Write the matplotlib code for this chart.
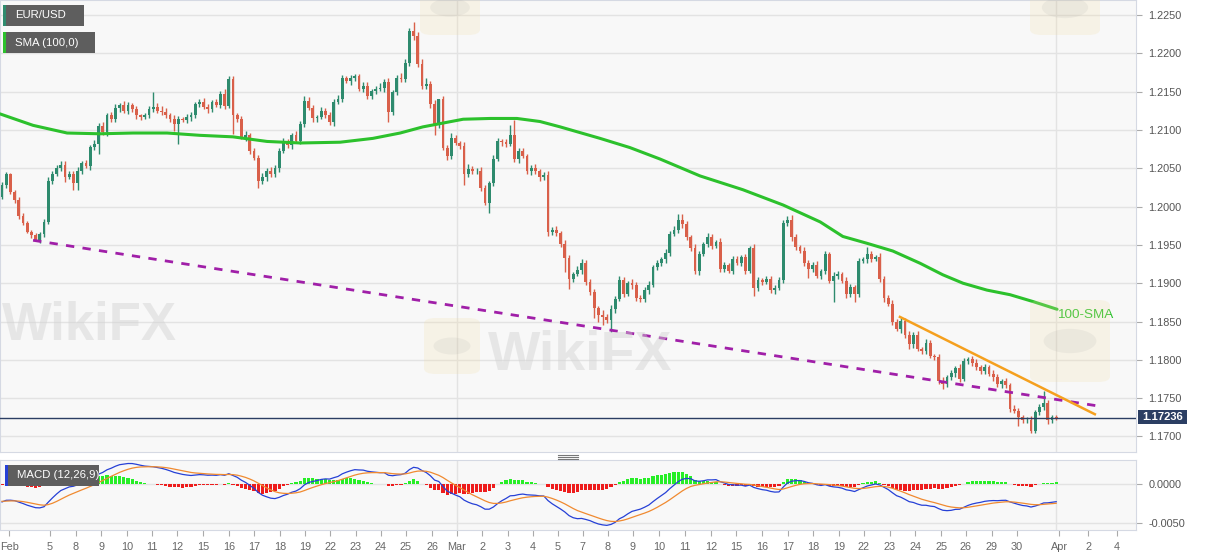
import numpy as np
import matplotlib.pyplot as plt
from matplotlib.patches import Rectangle, FancyBboxPatch, Circle
from matplotlib.lines import Line2D

plt.rcParams["font.family"] = ["Liberation Sans", "DejaVu Sans"]

W, H = 1207, 555

# --- data: EUR/USD 4H candles, 3 Feb - 1 Apr 2021 ---
FIRST_OPEN_PIPS = 1013          # pips above 1.1000
CLOSE_PIPS = [
    1028, 1042, 1019, 1008, 988, 979, 967, 963, 956, 964, 980, 1034,
    1043, 1050, 1054, 1039, 1043, 1031, 1046, 1057, 1053, 1078, 1082, 1105,
    1097, 1119, 1114, 1129, 1132, 1125, 1132, 1127, 1119, 1117, 1119, 1127,
    1130, 1125, 1124, 1119, 1114, 1108, 1114, 1113, 1117, 1119, 1134, 1136,
    1130, 1127, 1136, 1133, 1147, 1131, 1166, 1119, 1114, 1091, 1093, 1073,
    1064, 1034, 1039, 1046, 1042, 1050, 1073, 1084, 1080, 1093, 1086, 1108,
    1138, 1129, 1115, 1117, 1125, 1120, 1111, 1137, 1140, 1168, 1164, 1168,
    1170, 1154, 1158, 1144, 1151, 1154, 1155, 1163, 1123, 1149, 1168, 1167,
    1187, 1229, 1223, 1186, 1157, 1160, 1134, 1107, 1140, 1077, 1066, 1090,
    1083, 1079, 1043, 1049, 1046, 1047, 1024, 1005, 1031, 1062, 1085, 1084,
    1082, 1093, 1062, 1072, 1066, 1046, 1050, 1046, 1038, 1041, 967, 970,
    965, 951, 933, 906, 912, 917, 927, 901, 888, 867, 859, 856,
    852, 866, 880, 904, 886, 900, 898, 881, 879, 891, 898, 921,
    926, 931, 939, 964, 969, 982, 977, 960, 946, 916, 938, 951,
    960, 949, 954, 919, 924, 916, 931, 927, 934, 916, 946, 894,
    904, 902, 905, 891, 894, 904, 978, 982, 960, 947, 942, 927,
    918, 924, 910, 916, 938, 903, 910, 912, 903, 886, 895, 886,
    929, 931, 938, 932, 934, 905, 881, 873, 849, 840, 851, 833,
    820, 833, 814, 812, 822, 805, 804, 773, 768, 777, 783, 789,
    775, 799, 801, 796, 790, 786, 790, 782, 777, 768, 772, 767,
    736, 733, 725, 721, 722, 707, 732, 738, 744, 721, 725, 724,
]
UPPER_WICK = [
    4, 3, 2, 3, 4, 3, 2, 3, 2, 3, 4, 5,
    3, 4, 5, 6, 3, 4, 5, 3, 4, 2, 5, 4,
    5, 3, 4, 5, 3, 6, 4, 3, 4, 2, 3, 4,
    19, 5, 6, 4, 3, 5, 4, 3, 4, 5, 3, 4,
    6, 4, 3, 5, 4, 6, 4, 5, 3, 4, 5, 3,
    4, 3, 5, 4, 6, 4, 3, 5, 4, 3, 5, 4,
    6, 5, 4, 3, 5, 4, 3, 4, 5, 4, 3, 4,
    3, 3, 4, 5, 3, 4, 6, 4, 5, 3, 4, 6,
    5, 4, 12, 5, 6, 8, 4, 5, 1, 4, 3, 6,
    4, 3, 5, 6, 4, 3, 5, 4, 3, 5, 4, 3,
    4, 13, 20, 4, 5, 3, 4, 5, 3, 4, 5, 3,
    4, 3, 5, 4, 3, 6, 4, 3, 5, 4, 3, 6,
    4, 5, 3, 6, 4, 3, 5, 4, 3, 4, 5, 3,
    4, 3, 5, 4, 6, 8, 8, 4, 3, 5, 4, 3,
    5, 4, 3, 5, 4, 3, 4, 5, 3, 4, 3, 5,
    4, 3, 4, 5, 3, 4, 4, 6, 7, 4, 3, 5,
    3, 4, 5, 3, 4, 3, 5, 4, 3, 5, 4, 3,
    4, 3, 9, 4, 3, 5, 4, 3, 5, 4, 3, 4,
    5, 3, 4, 3, 5, 4, 3, 4, 5, 3, 4, 3,
    5, 4, 3, 4, 5, 3, 4, 3, 5, 4, 3, 4,
    3, 5, 4, 3, 4, 5, 3, 4, 15, 4, 3, 3,
]
LOWER_WICK = [
    3, 4, 2, 3, 4, 3, 2, 4, 1, 3, 4, 3,
    4, 3, 4, 7, 3, 10, 10, 4, 3, 5, 4, 13,
    4, 5, 3, 4, 5, 3, 4, 3, 5, 4, 3, 4,
    4, 3, 5, 4, 3, 10, 26, 3, 4, 5, 3, 4,
    3, 5, 4, 3, 5, 4, 3, 24, 4, 3, 5, 4,
    3, 10, 4, 5, 3, 4, 5, 3, 4, 5, 3, 4,
    4, 3, 5, 4, 3, 4, 5, 6, 3, 4, 3, 5,
    4, 3, 5, 4, 3, 4, 3, 5, 13, 4, 3, 5,
    4, 3, 5, 4, 3, 4, 5, 14, 4, 3, 5, 4,
    3, 4, 15, 5, 4, 3, 4, 3, 13, 4, 3, 5,
    4, 3, 4, 5, 3, 4, 5, 3, 4, 3, 6, 4,
    3, 4, 19, 13, 4, 3, 5, 4, 3, 12, 10, 10,
    4, 16, 5, 3, 4, 3, 5, 4, 3, 4, 5, 3,
    4, 3, 5, 4, 3, 4, 5, 3, 4, 4, 5, 3,
    4, 5, 3, 4, 5, 3, 4, 3, 5, 4, 3, 11,
    4, 5, 3, 4, 5, 3, 4, 3, 5, 4, 3, 4,
    11, 4, 3, 5, 4, 3, 28, 4, 3, 5, 4, 10,
    4, 3, 5, 4, 3, 4, 5, 3, 4, 3, 5, 4,
    6, 4, 3, 5, 4, 3, 4, 5, 6, 4, 3, 5,
    4, 3, 5, 4, 3, 4, 5, 3, 4, 3, 5, 4,
    4, 3, 11, 4, 3, 3, 2, 4, 3, 5, 4, 3,
]
CURRENT = 1.17236

# 100-SMA (candle index, price)
SMA_IDX = [-0.5, 7.4, 15.5, 23.3, 31.2, 39.3, 47.1, 55.0, 63.1, 71.0, 80.5,
           88.3, 94.8, 100.2, 105.0, 109.8, 116.2, 122.6, 128.1, 132.9, 142.4,
           149.5, 156.7, 166.2, 176.4, 186.0, 194.8, 200.2, 206.0, 212.1,
           218.6, 224.0, 228.8, 234.5, 240.0, 245.5, 251.2]
SMA_VAL = [1.2121, 1.2106, 1.2096, 1.2095, 1.2096, 1.2096, 1.2093, 1.2091,
           1.2085, 1.2083, 1.2084, 1.2089, 1.2096, 1.2104, 1.2109, 1.2114,
           1.2115, 1.2115, 1.2111, 1.2104, 1.2089, 1.2077, 1.2062, 1.2040,
           1.2022, 1.2002, 1.1980, 1.1961, 1.1952, 1.1942, 1.1926, 1.1911,
           1.1900, 1.1891, 1.1885, 1.1876, 1.1866]

# hand-drawn trend lines (start/end candle index and price)
SUPPORT_X, SUPPORT_Y = [7.4, 260.7], [1.1956, 1.1740]
RESIST_X, RESIST_Y = [213.8, 260.2], [1.1856, 1.1729]

# MACD(12,26,9) state just before the first visible candle
EMA12_SEED, EMA26_SEED, SIGNAL_SEED = 1.2038, 1.2062, -0.0022

TICK_LABELS = ["Feb", "5", "8", "9", "10", "11", "12", "15", "16", "17", "18",
               "19", "22", "23", "24", "25", "26", "Mar", "2", "3", "4", "5",
               "7", "8", "9", "10", "11", "12", "15", "16", "17", "18", "19",
               "22", "23", "24", "25", "26", "29", "30", "Apr", "2", "4"]
TICK_POS = [1.7, 11.4, 17.6, 23.6, 29.8, 35.8, 41.7, 47.9, 54.0, 60.0, 66.2,
            72.1, 78.1, 84.2, 90.2, 96.2, 102.4, 108.3, 114.3, 120.5, 126.4,
            132.4, 138.3, 144.3, 150.2, 156.4, 162.6, 168.8, 174.8, 181.0,
            187.1, 193.1, 199.3, 205.2, 211.4, 217.4, 223.6, 229.5, 235.7,
            241.7, 251.7, 258.6, 265.5]
MONTH_LINES = [108.3, 250.9]
PRICE_TICKS = [1.1700, 1.1750, 1.1800, 1.1850, 1.1900, 1.1950, 1.2000,
               1.2050, 1.2100, 1.2150, 1.2200, 1.2250]
MACD_TICKS = [-0.0050, 0.0000]

# --- palette ---
UP = "#2e8b6e"
DOWN = "#d9604a"
SMA_C = "#2cc12c"
PURPLE = "#a01fa8"
ORANGE = "#f5a01e"
NAVY = "#2b3e63"
PANEL = "#f8f8f8"
GRID = "#e3e3e3"
BORDER = "#d5d9e3"
TXT = "#555555"

fig = plt.figure(figsize=(W / 100, H / 100), dpi=100)
fig.patch.set_facecolor("white")


def fx(px):
    return px / W


def fy(py):
    return 1 - py / H


ax = fig.add_axes([0, fy(452), fx(1136), 452 / H])
mx = fig.add_axes([0, fy(530), fx(1136), 70 / H])
for a in (ax, mx):
    a.set_facecolor(PANEL)
    a.set_xlim(-0.476, 270)
    for s in a.spines.values():
        s.set_color(BORDER)
    for m in MONTH_LINES:
        a.axvline(m, color=GRID, lw=1, zorder=0)

ax.set_ylim(1.16797, 1.22696)
mx.set_ylim(-0.0059, 0.00308)

# --- faint WikiFX watermarks (behind the data) ---
for x0, y0, s in [(2, 340, 38), (488, 370, 40)]:
    fig.text(fx(x0), fy(y0), "WikiFX", fontsize=s, fontweight="bold",
             color="#d2d2d2", alpha=0.45, ha="left", va="baseline", zorder=0.5)
for x0, y0, w, h in [(424, 318, 56, 56), (1030, 300, 80, 82), (420, -20, 60, 55),
                     (1030, -20, 70, 55)]:
    fig.add_artist(FancyBboxPatch((fx(x0), fy(y0 + h)), w / W, h / H,
                                  boxstyle="round,pad=0,rounding_size=0.01",
                                  transform=fig.transFigure, fc="#f2dea6",
                                  ec="none", alpha=0.22, zorder=0.5))
    fig.add_artist(Circle((fx(x0 + w / 2), fy(y0 + h / 2)), 0.33 * w / W,
                          transform=fig.transFigure, fc="#a0a0a0", ec="none",
                          alpha=0.12, zorder=0.5))

# --- candles ---
n = len(CLOSE_PIPS)
idx = np.arange(n)
close = 1.1 + np.array(CLOSE_PIPS) / 10000
open_ = np.r_[1.1 + FIRST_OPEN_PIPS / 10000, close[:-1]]
high = np.maximum(open_, close) + np.array(UPPER_WICK) / 10000
low = np.minimum(open_, close) - np.array(LOWER_WICK) / 10000
cols = np.where(close >= open_, UP, DOWN)

for p in PRICE_TICKS:
    ax.axhline(p, color=GRID, lw=1, zorder=0)

ax.vlines(idx, low, high, colors=cols, lw=1, zorder=2)
body = np.maximum(np.abs(close - open_), 0.00008)
ax.bar(idx, body, bottom=np.minimum(open_, close), width=0.66, color=cols,
       linewidth=0, zorder=3)

ax.plot(SMA_IDX, SMA_VAL, color=SMA_C, lw=2.2, zorder=4, solid_capstyle="round")
ax.plot(SUPPORT_X, SUPPORT_Y, color=PURPLE, lw=2, dashes=(3, 3), zorder=4)
ax.plot(RESIST_X, RESIST_Y, color=ORANGE, lw=1.8, zorder=4)
ax.axhline(CURRENT, color=NAVY, lw=1, zorder=4)

ax.text(251.2, 1.18585, "100-SMA", color=SMA_C, fontsize=9.7, va="center",
        ha="left", zorder=5)

ax.yaxis.tick_right()
ax.set_yticks(PRICE_TICKS)
ax.set_yticklabels([f"{p:.4f}" for p in PRICE_TICKS])
ax.tick_params(axis="y", length=4, color="#aaaaaa", labelsize=7.8,
               labelcolor=TXT, pad=5)
ax.tick_params(axis="x", bottom=False, labelbottom=False)

# --- MACD panel ---
ema12, ema26, sig = EMA12_SEED, EMA26_SEED, SIGNAL_SEED
macd, signal = [], []
for c in close:
    ema12 += (c - ema12) * 2 / 13
    ema26 += (c - ema26) * 2 / 27
    m = ema12 - ema26
    sig += (m - sig) * 2 / 10
    macd.append(m)
    signal.append(sig)
macd, signal = np.array(macd), np.array(signal)
hist = macd - signal

mx.axhline(0, color=GRID, lw=1, zorder=0)
mx.axhline(-0.005, color=GRID, lw=1, zorder=0)
mx.bar(idx, hist, width=0.8, color=np.where(hist >= 0, "#27ee27", "#ee1c1c"),
       linewidth=0, zorder=2)
mx.plot(idx, macd, color="#2640d6", lw=0.9, zorder=3)
mx.plot(idx, signal, color="#f08a30", lw=0.9, zorder=3)

mx.yaxis.tick_right()
mx.set_yticks(MACD_TICKS)
mx.set_yticklabels([f"{v:.4f}" for v in MACD_TICKS])
mx.tick_params(axis="y", length=4, color="#aaaaaa", labelsize=7.8,
               labelcolor=TXT, pad=5)
mx.set_xticks(TICK_POS)
mx.set_xticklabels(TICK_LABELS)
mx.tick_params(axis="x", length=4, color="#aaaaaa", labelsize=7.8,
               labelcolor="#666666", pad=5)


# --- label boxes ---
def tag(x0, y0, x1, y1, text, stripe):
    fig.add_artist(Rectangle((fx(x0), fy(y1)), (x1 - x0) / W, (y1 - y0) / H,
                             transform=fig.transFigure, fc="#5e5e5e", ec="none"))
    fig.add_artist(Rectangle((fx(x0), fy(y1)), 3 / W, (y1 - y0) / H,
                             transform=fig.transFigure, fc=stripe, ec="none"))
    fig.text(fx(x0 + 12), fy((y0 + y1) / 2), text, color="white", fontsize=8.2,
             va="center", ha="left")


tag(3, 5, 84, 26, "EUR/USD", UP)
tag(3, 32, 95, 53, "SMA (100,0)", SMA_C)
tag(5, 465, 99, 486, "MACD (12,26,9)", "#2640d6")

# current price tag
fig.add_artist(Rectangle((fx(1138), fy(424)), 49 / W, 14 / H,
                         transform=fig.transFigure, fc=NAVY, ec="none"))
fig.text(fx(1162.5), fy(417), f"{CURRENT:.5f}", color="white", fontsize=8.1,
         fontweight="bold", ha="center", va="center")

# panel resize handle
for yy in (454.5, 456.5, 458.5):
    fig.add_artist(Line2D([fx(558), fx(578)], [fy(yy), fy(yy)], color="#777777",
                          lw=0.8, transform=fig.transFigure))

fig.savefig("out.png", dpi=100)
